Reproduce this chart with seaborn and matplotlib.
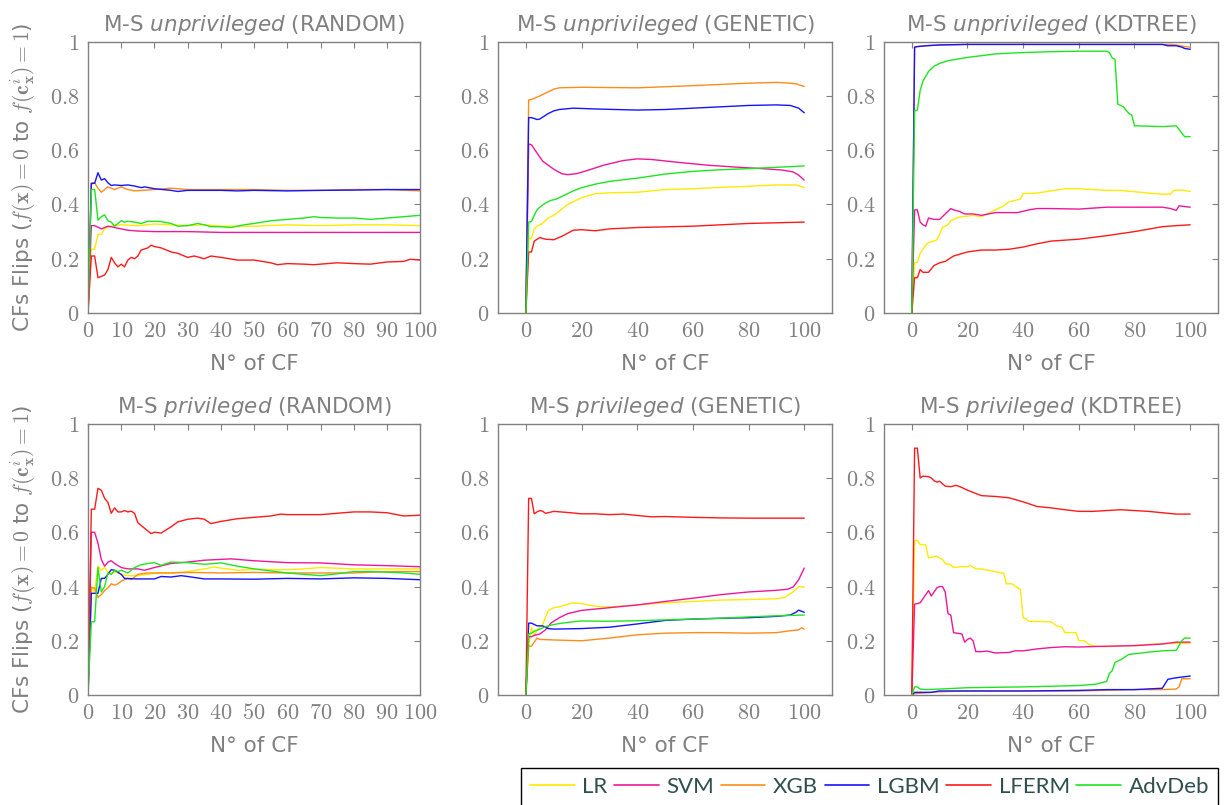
import matplotlib
matplotlib.use("Agg")
import matplotlib.pyplot as plt
from matplotlib.lines import Line2D
import pandas as pd
import seaborn as sns

MODELS = ["LR", "SVM", "XGB", "LGBM", "LFERM", "AdvDeb"]
COLORS = ["#ffea00", "#f0169a", "#ff8c1a", "#1414ff", "#ff1a1a", "#1ee61e"]
GRAY = "#808080"

Y_TICKS = [0, 0.2, 0.4, 0.6, 0.8, 1]
X_TICKS_RANDOM = [0, 10, 20, 30, 40, 50, 60, 70, 80, 90, 100]
X_TICKS_OTHER = [0, 20, 40, 60, 80, 100]

# ---- M-S unprivileged (RANDOM) ----
ru_lr = [(0, 0), (1, 0.235), (2, 0.235), (3, 0.29), (4, 0.29), (5, 0.31), (6, 0.315), (7, 0.32), (8, 0.322),
         (10, 0.325), (15, 0.322), (20, 0.328), (25, 0.325), (30, 0.322), (35, 0.325), (40, 0.32), (50, 0.32),
         (60, 0.325), (70, 0.322), (80, 0.325), (90, 0.325), (100, 0.322)]
ru_svm = [(0, 0), (1, 0.322), (2, 0.322), (4, 0.31), (5, 0.315), (6, 0.32), (7, 0.318), (8, 0.315), (10, 0.31),
          (12, 0.305), (15, 0.302), (20, 0.3), (30, 0.3), (40, 0.297), (50, 0.297), (60, 0.297), (70, 0.297),
          (80, 0.297), (90, 0.297), (100, 0.297)]
ru_xgb = [(0, 0), (1, 0.48), (2, 0.48), (3, 0.46), (4, 0.445), (5, 0.455), (6, 0.465), (7, 0.46), (8, 0.455),
          (10, 0.465), (12, 0.455), (14, 0.45), (20, 0.455), (25, 0.46), (30, 0.455), (40, 0.455), (50, 0.455),
          (60, 0.452), (70, 0.452), (80, 0.455), (90, 0.455), (100, 0.45)]
ru_lgbm = [(0, 0), (1, 0.477), (2, 0.478), (3, 0.517), (4, 0.49), (5, 0.495), (6, 0.48), (7, 0.47), (8, 0.472),
           (10, 0.47), (12, 0.472), (14, 0.468), (16, 0.462), (17, 0.465), (20, 0.458), (25, 0.452), (27, 0.448),
           (30, 0.452), (40, 0.452), (45, 0.45), (50, 0.452), (60, 0.45), (70, 0.452), (80, 0.453), (90, 0.455),
           (100, 0.455)]
ru_lferm = [(0, 0), (1, 0.21), (2, 0.21), (3, 0.13), (4, 0.135), (5, 0.14), (6, 0.16), (7, 0.205), (8, 0.185),
            (9, 0.17), (10, 0.18), (11, 0.17), (12, 0.195), (13, 0.205), (14, 0.2), (15, 0.21), (16, 0.232),
            (18, 0.24), (19, 0.25), (20, 0.245), (22, 0.24), (25, 0.225), (27, 0.22), (30, 0.205), (32, 0.21),
            (35, 0.2), (37, 0.21), (40, 0.205), (45, 0.195), (50, 0.195), (55, 0.185), (57, 0.178), (60, 0.182),
            (65, 0.18), (68, 0.178), (70, 0.18), (75, 0.185), (80, 0.182), (85, 0.18), (90, 0.188), (95, 0.19),
            (97, 0.198), (100, 0.195)]
ru_adv = [(0, 0), (1, 0.455), (2, 0.455), (3, 0.342), (4, 0.355), (5, 0.362), (6, 0.34), (7, 0.335), (8, 0.32),
          (9, 0.33), (10, 0.34), (11, 0.335), (12, 0.338), (14, 0.335), (16, 0.33), (18, 0.338), (20, 0.338),
          (22, 0.337), (25, 0.33), (27, 0.32), (30, 0.322), (33, 0.33), (35, 0.325), (37, 0.318), (40, 0.318),
          (43, 0.315), (47, 0.325), (50, 0.33), (55, 0.34), (60, 0.345), (65, 0.35), (68, 0.355), (70, 0.352),
          (75, 0.35), (80, 0.35), (85, 0.345), (90, 0.35), (95, 0.355), (100, 0.36)]

# ---- M-S unprivileged (GENETIC) ----
gu_lr = [(0, 0), (1, 0.275), (2, 0.275), (3, 0.31), (4, 0.32), (6, 0.33), (8, 0.35), (10, 0.36), (12, 0.375),
         (15, 0.4), (20, 0.425), (25, 0.44), (30, 0.443), (40, 0.445), (50, 0.455), (60, 0.458), (70, 0.463),
         (80, 0.467), (90, 0.472), (97, 0.472), (100, 0.462)]
gu_svm = [(0, 0), (1, 0.623), (2, 0.62), (4, 0.59), (6, 0.56), (8, 0.545), (10, 0.53), (13, 0.513), (15, 0.51),
          (18, 0.513), (22, 0.525), (28, 0.545), (35, 0.562), (40, 0.568), (45, 0.566), (55, 0.555), (65, 0.545),
          (75, 0.538), (85, 0.532), (92, 0.527), (96, 0.52), (98, 0.508), (100, 0.49)]
gu_xgb = [(0, 0), (1, 0.785), (2, 0.787), (5, 0.8), (10, 0.825), (12, 0.83), (20, 0.832), (40, 0.83), (60, 0.838),
          (80, 0.847), (90, 0.85), (95, 0.847), (97, 0.845), (100, 0.835)]
gu_lgbm = [(0, 0), (1, 0.72), (2, 0.72), (3, 0.717), (4, 0.713), (5, 0.715), (8, 0.735), (10, 0.745), (12, 0.75),
           (17, 0.755), (25, 0.752), (40, 0.748), (50, 0.75), (60, 0.755), (80, 0.765), (90, 0.767), (95, 0.765),
           (98, 0.755), (100, 0.738)]
gu_lferm = [(0, 0), (1, 0.225), (2, 0.225), (3, 0.265), (5, 0.278), (7, 0.272), (10, 0.27), (13, 0.283),
            (17, 0.305), (20, 0.307), (25, 0.303), (30, 0.31), (40, 0.315), (60, 0.32), (80, 0.33), (100, 0.335)]
gu_adv = [(0, 0), (1, 0.335), (2, 0.337), (3, 0.36), (4, 0.38), (5, 0.39), (7, 0.405), (9, 0.415), (11, 0.42),
          (14, 0.435), (17, 0.45), (20, 0.462), (25, 0.475), (30, 0.485), (40, 0.497), (50, 0.512), (60, 0.522),
          (70, 0.528), (80, 0.532), (90, 0.537), (100, 0.542)]

# ---- M-S unprivileged (KDTREE) ----
ku_lr = [(0, 0), (1, 0.185), (2, 0.187), (3, 0.22), (4, 0.235), (5, 0.25), (6, 0.26), (8, 0.265), (9, 0.27),
         (10, 0.29), (11, 0.315), (13, 0.325), (14, 0.34), (16, 0.35), (18, 0.355), (20, 0.357), (22, 0.36),
         (25, 0.355), (27, 0.365), (30, 0.38), (33, 0.395), (35, 0.41), (37, 0.415), (39, 0.42), (40, 0.44),
         (45, 0.442), (50, 0.45), (55, 0.458), (60, 0.458), (65, 0.455), (70, 0.452), (75, 0.452), (80, 0.447),
         (85, 0.442), (90, 0.438), (93, 0.438), (94, 0.452), (97, 0.453), (100, 0.448)]
ku_svm = [(0, 0), (1, 0.38), (2, 0.38), (3, 0.335), (4, 0.325), (5, 0.32), (6, 0.35), (8, 0.345), (10, 0.345),
          (12, 0.365), (14, 0.385), (15, 0.38), (17, 0.375), (19, 0.365), (22, 0.365), (25, 0.36), (30, 0.37),
          (35, 0.37), (38, 0.37), (40, 0.375), (42, 0.38), (45, 0.385), (50, 0.385), (60, 0.383), (70, 0.39),
          (80, 0.39), (90, 0.39), (93, 0.385), (95, 0.378), (96, 0.395), (100, 0.39)]
ku_xgb = [(0, 0), (1, 0.98), (2, 0.982), (5, 0.985), (10, 0.988), (20, 0.99), (60, 0.99), (90, 0.99), (93, 0.99),
          (95, 0.988), (98, 0.982), (100, 0.98)]
ku_lgbm = [(0, 0), (1, 0.98), (2, 0.982), (5, 0.985), (10, 0.988), (20, 0.99), (60, 0.99), (90, 0.99), (92, 0.985),
           (95, 0.985), (97, 0.98), (98, 0.975), (100, 0.972)]
ku_lferm = [(0, 0), (1, 0.13), (2, 0.13), (3, 0.16), (4, 0.15), (6, 0.15), (8, 0.175), (10, 0.185), (12, 0.19),
            (15, 0.21), (20, 0.225), (25, 0.232), (30, 0.232), (35, 0.235), (40, 0.243), (45, 0.255), (50, 0.265),
            (60, 0.272), (70, 0.285), (80, 0.3), (90, 0.318), (95, 0.322), (100, 0.325)]
ku_adv = [(0, 0), (1, 0.745), (2, 0.748), (3, 0.82), (4, 0.855), (6, 0.89), (8, 0.91), (10, 0.92), (13, 0.93),
          (17, 0.937), (20, 0.942), (30, 0.955), (40, 0.96), (50, 0.963), (60, 0.965), (70, 0.965), (71, 0.96),
          (72, 0.94), (73, 0.935), (74, 0.77), (76, 0.76), (78, 0.735), (79, 0.73), (80, 0.69), (90, 0.687),
          (95, 0.69), (98, 0.65), (100, 0.65)]

# ---- M-S privileged (RANDOM) ----
rp_lr = [(0, 0), (1, 0.4), (2, 0.38), (3, 0.475), (4, 0.46), (5, 0.47), (6, 0.455), (7, 0.445), (8, 0.455),
         (10, 0.445), (12, 0.44), (15, 0.44), (20, 0.448), (25, 0.45), (30, 0.455), (35, 0.465), (38, 0.472),
         (40, 0.468), (45, 0.46), (50, 0.463), (60, 0.462), (65, 0.465), (70, 0.47), (80, 0.465), (90, 0.465),
         (100, 0.465)]
rp_svm = [(0, 0), (1, 0.6), (2, 0.6), (3, 0.56), (4, 0.5), (5, 0.475), (6, 0.49), (7, 0.495), (8, 0.485),
          (10, 0.47), (12, 0.465), (15, 0.465), (17, 0.46), (20, 0.47), (25, 0.485), (30, 0.49), (35, 0.497),
          (40, 0.5), (43, 0.502), (50, 0.495), (60, 0.488), (70, 0.487), (80, 0.48), (90, 0.477), (100, 0.473)]
rp_xgb = [(0, 0), (1, 0.395), (2, 0.395), (3, 0.36), (4, 0.37), (5, 0.385), (6, 0.395), (7, 0.41), (8, 0.405),
          (9, 0.41), (10, 0.42), (12, 0.43), (13, 0.425), (15, 0.445), (18, 0.45), (20, 0.45), (25, 0.45),
          (30, 0.452), (40, 0.45), (50, 0.452), (60, 0.45), (70, 0.45), (80, 0.45), (90, 0.455), (100, 0.455)]
rp_lgbm = [(0, 0), (1, 0.375), (2, 0.375), (3, 0.375), (4, 0.43), (5, 0.43), (6, 0.445), (7, 0.462), (8, 0.46),
           (10, 0.445), (11, 0.43), (15, 0.428), (20, 0.428), (22, 0.437), (25, 0.435), (28, 0.44), (30, 0.437),
           (35, 0.428), (40, 0.428), (50, 0.427), (60, 0.43), (70, 0.428), (80, 0.432), (90, 0.43), (100, 0.425)]
rp_lferm = [(0, 0), (1, 0.685), (2, 0.685), (3, 0.762), (4, 0.755), (5, 0.725), (6, 0.71), (7, 0.67), (8, 0.69),
            (9, 0.675), (10, 0.675), (11, 0.68), (12, 0.675), (13, 0.678), (14, 0.67), (15, 0.635), (17, 0.615),
            (19, 0.595), (20, 0.6), (22, 0.597), (25, 0.62), (27, 0.638), (30, 0.648), (33, 0.652), (35, 0.648),
            (37, 0.632), (40, 0.64), (45, 0.65), (50, 0.655), (55, 0.66), (58, 0.667), (60, 0.665), (70, 0.665),
            (80, 0.675), (85, 0.675), (90, 0.672), (93, 0.665), (95, 0.66), (100, 0.663)]
rp_adv = [(0, 0), (1, 0.27), (2, 0.27), (3, 0.47), (4, 0.38), (5, 0.4), (6, 0.45), (7, 0.445), (8, 0.46),
          (9, 0.455), (10, 0.46), (12, 0.45), (14, 0.47), (16, 0.48), (18, 0.485), (20, 0.488), (22, 0.478),
          (25, 0.49), (30, 0.488), (35, 0.482), (40, 0.487), (45, 0.475), (50, 0.465), (60, 0.45), (65, 0.445),
          (70, 0.44), (75, 0.447), (80, 0.455), (85, 0.455), (90, 0.453), (95, 0.45), (100, 0.445)]

# ---- M-S privileged (GENETIC) ----
gp_lr = [(0, 0), (1, 0.18), (2, 0.25), (3, 0.22), (4, 0.24), (6, 0.26), (8, 0.31), (10, 0.322), (12, 0.325),
         (15, 0.335), (17, 0.34), (20, 0.337), (25, 0.327), (30, 0.325), (40, 0.332), (50, 0.34), (60, 0.345),
         (70, 0.35), (80, 0.352), (90, 0.355), (93, 0.36), (96, 0.38), (98, 0.4), (100, 0.397)]
gp_svm = [(0, 0), (1, 0.215), (2, 0.215), (3, 0.22), (5, 0.225), (7, 0.24), (9, 0.265), (12, 0.285), (15, 0.3),
          (20, 0.312), (30, 0.322), (40, 0.332), (50, 0.345), (60, 0.357), (70, 0.37), (80, 0.38), (90, 0.386),
          (94, 0.39), (96, 0.398), (98, 0.425), (100, 0.468)]
gp_xgb = [(0, 0), (1, 0.18), (2, 0.18), (3, 0.195), (4, 0.21), (5, 0.205), (10, 0.203), (20, 0.2), (30, 0.21),
          (40, 0.222), (50, 0.228), (60, 0.23), (70, 0.23), (80, 0.228), (90, 0.23), (95, 0.237), (98, 0.24),
          (99, 0.248), (100, 0.243)]
gp_lgbm = [(0, 0), (1, 0.265), (2, 0.265), (4, 0.255), (6, 0.255), (8, 0.245), (10, 0.243), (20, 0.245),
           (30, 0.25), (40, 0.262), (50, 0.275), (60, 0.28), (70, 0.283), (80, 0.285), (90, 0.29), (95, 0.295),
           (97, 0.305), (98, 0.313), (100, 0.305)]
gp_lferm = [(0, 0), (1, 0.725), (2, 0.725), (3, 0.668), (4, 0.675), (5, 0.68), (6, 0.678), (7, 0.67), (8, 0.672),
            (10, 0.677), (15, 0.673), (20, 0.668), (25, 0.668), (30, 0.665), (35, 0.667), (40, 0.662), (45, 0.657),
            (50, 0.658), (60, 0.655), (70, 0.653), (80, 0.652), (90, 0.652), (100, 0.652)]
gp_adv = [(0, 0), (1, 0.225), (2, 0.228), (3, 0.235), (5, 0.243), (8, 0.255), (10, 0.26), (13, 0.265), (17, 0.27),
          (20, 0.273), (30, 0.272), (40, 0.274), (50, 0.277), (60, 0.28), (70, 0.283), (80, 0.288), (90, 0.292),
          (100, 0.295)]

# ---- M-S privileged (KDTREE) ----
kp_lr = [(0, 0), (1, 0.57), (2, 0.57), (3, 0.555), (5, 0.553), (6, 0.505), (8, 0.51), (9, 0.512), (10, 0.505),
         (11, 0.5), (12, 0.485), (14, 0.48), (15, 0.47), (18, 0.473), (20, 0.473), (21, 0.478), (23, 0.465),
         (25, 0.465), (30, 0.455), (32, 0.45), (33, 0.45), (34, 0.41), (36, 0.41), (38, 0.395), (39, 0.39),
         (40, 0.285), (41, 0.28), (42, 0.272), (50, 0.27), (52, 0.255), (54, 0.25), (55, 0.23), (59, 0.23),
         (60, 0.2), (62, 0.2), (64, 0.185), (66, 0.18), (70, 0.178), (80, 0.183), (90, 0.19), (100, 0.19)]
kp_svm = [(0, 0), (1, 0.335), (2, 0.337), (3, 0.34), (5, 0.37), (6, 0.385), (7, 0.365), (8, 0.38), (9, 0.395),
          (10, 0.4), (11, 0.4), (12, 0.38), (13, 0.3), (14, 0.295), (15, 0.23), (18, 0.225), (19, 0.195),
          (20, 0.205), (21, 0.21), (22, 0.2), (23, 0.16), (25, 0.16), (27, 0.162), (30, 0.155), (35, 0.157),
          (37, 0.163), (40, 0.163), (45, 0.17), (50, 0.175), (55, 0.178), (60, 0.177), (70, 0.18), (80, 0.182),
          (90, 0.188), (95, 0.195), (100, 0.195)]
kp_xgb = [(0, 0), (1, 0.005), (10, 0.012), (20, 0.015), (40, 0.015), (60, 0.015), (80, 0.02), (90, 0.02),
          (95, 0.022), (96, 0.03), (97, 0.06), (100, 0.06)]
kp_lgbm = [(0, 0), (1, 0.01), (5, 0.01), (7, 0.01), (10, 0.015), (20, 0.015), (40, 0.015), (60, 0.017), (70, 0.02),
           (80, 0.02), (90, 0.025), (92, 0.058), (94, 0.062), (96, 0.065), (100, 0.07)]
kp_lferm = [(0, 0), (1, 0.91), (2, 0.91), (3, 0.8), (4, 0.807), (6, 0.805), (7, 0.8), (8, 0.79), (9, 0.785),
            (10, 0.788), (12, 0.77), (14, 0.768), (16, 0.773), (18, 0.765), (20, 0.755), (25, 0.735), (30, 0.732),
            (35, 0.727), (40, 0.712), (45, 0.695), (50, 0.69), (55, 0.683), (60, 0.677), (65, 0.677), (70, 0.68),
            (75, 0.683), (80, 0.68), (85, 0.677), (90, 0.672), (95, 0.667), (100, 0.667)]
kp_adv = [(0, 0), (1, 0.03), (2, 0.03), (3, 0.022), (5, 0.02), (10, 0.022), (20, 0.027), (40, 0.03), (60, 0.035),
          (66, 0.04), (70, 0.05), (71, 0.08), (72, 0.09), (73, 0.12), (75, 0.13), (78, 0.15), (80, 0.152),
          (85, 0.158), (90, 0.163), (95, 0.165), (97, 0.2), (98, 0.21), (100, 0.21)]

PANELS = [
    ("unprivileged", "RANDOM", [ru_lr, ru_svm, ru_xgb, ru_lgbm, ru_lferm, ru_adv]),
    ("unprivileged", "GENETIC", [gu_lr, gu_svm, gu_xgb, gu_lgbm, gu_lferm, gu_adv]),
    ("unprivileged", "KDTREE", [ku_lr, ku_svm, ku_xgb, ku_lgbm, ku_lferm, ku_adv]),
    ("privileged", "RANDOM", [rp_lr, rp_svm, rp_xgb, rp_lgbm, rp_lferm, rp_adv]),
    ("privileged", "GENETIC", [gp_lr, gp_svm, gp_xgb, gp_lgbm, gp_lferm, gp_adv]),
    ("privileged", "KDTREE", [kp_lr, kp_svm, kp_xgb, kp_lgbm, kp_lferm, kp_adv]),
]

sns.set_style("white")
plt.rcParams["font.family"] = ["DejaVu Sans"]
plt.rcParams["mathtext.fontset"] = "cm"

fig = plt.figure(figsize=(12.24, 8.05), dpi=100)

# axes boxes in figure fractions (left, bottom, width, height)
lefts = [0.0719, 0.4069, 0.7222]
widths = [0.2714, 0.2729, 0.2729]
bottoms = [0.6112, 0.1366]
height = 0.337

ylabel = r"CFs Flips ($f(\mathbf{x}) = 0$ to $f(\mathbf{c}^{i}_{\mathbf{x}}) = 1$)"

for k, (status, method, series) in enumerate(PANELS):
    row, col = divmod(k, 3)
    ax = fig.add_axes([lefts[col], bottoms[row], widths[col], height])

    rows = []
    for model, pts in zip(MODELS, series):
        for x, y in pts:
            rows.append({"x": x, "y": y, "model": model})
    df = pd.DataFrame(rows)

    sns.lineplot(data=df, x="x", y="y", hue="model", hue_order=MODELS, palette=COLORS,
                 estimator=None, sort=False, lw=1.0, legend=False, ax=ax)

    if method == "RANDOM":
        ax.set_xlim(0, 100)
        ax.set_xticks(X_TICKS_RANDOM, labels=[f"${t}$" for t in X_TICKS_RANDOM])
    else:
        ax.set_xlim(-10, 110)
        ax.set_xticks(X_TICKS_OTHER, labels=[f"${t}$" for t in X_TICKS_OTHER])
    ax.set_ylim(0, 1)
    ax.set_yticks(Y_TICKS, labels=[f"${t:g}$" for t in Y_TICKS])

    ax.tick_params(direction="in", top=True, right=True, length=4, width=0.8, color=GRAY,
                   labelcolor=GRAY, labelsize=16, pad=6)
    for sp in ax.spines.values():
        sp.set_color(GRAY)
        sp.set_linewidth(1.0)

    ax.set_title(f"M-S $\\mathit{{{status}}}$ ({method})", math_fontfamily="dejavusans",
                 color=GRAY, fontsize=15.5, pad=8)
    ax.set_xlabel("N° of CF", color=GRAY, fontsize=15.5)
    ax.xaxis.set_label_coords(0.5, -0.15)
    if col == 0:
        ax.set_ylabel(ylabel, color=GRAY, fontsize=15.5)
        ax.yaxis.set_label_coords(-0.15, 0.5)
    else:
        ax.set_ylabel("")

handles = [Line2D([], [], color=c, lw=1.2) for c in COLORS]
fig.legend(handles, MODELS, loc="lower right", bbox_to_anchor=(1218 / 1224, -0.001), borderaxespad=0,
           ncol=6, frameon=True, fancybox=False, edgecolor="black", labelcolor="#2f4f4f",
           prop={"family": "Lato", "size": 16}, handlelength=2.0, handletextpad=0.35,
           columnspacing=0.3, borderpad=0.4, framealpha=1)

fig.savefig("out.png", dpi=100)
